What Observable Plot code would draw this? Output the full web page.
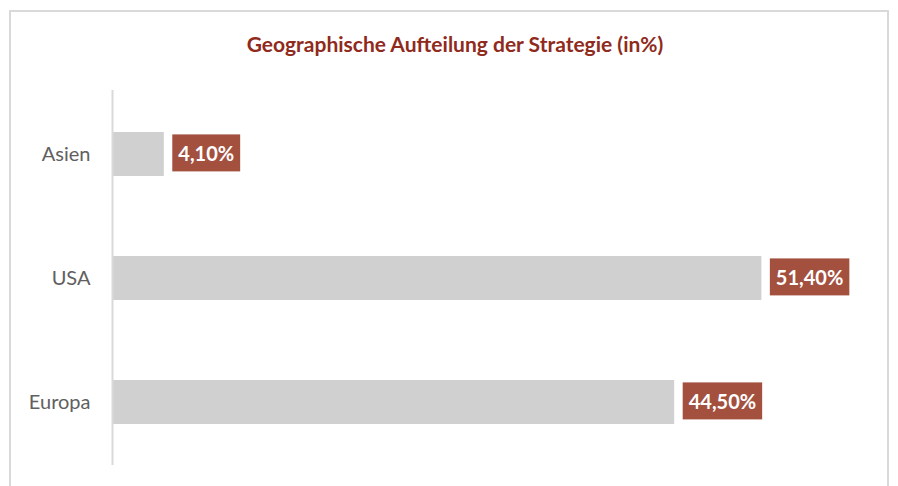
<!DOCTYPE html>
<html>
<head>
<meta charset="utf-8">
<script src="https://cdn.jsdelivr.net/npm/d3@7"></script>
<script src="https://cdn.jsdelivr.net/npm/@observablehq/plot@0.6"></script>
<style>
  html, body { margin: 0; padding: 0; background: #fff; }
  #wrap { position: relative; width: 898px; height: 486px; overflow: hidden; }
  #frame { position: absolute; left: 9px; top: 10px; width: 880px; height: 500px; border: 2px solid #d9d9d9; box-sizing: border-box; }
  #title { position: absolute; left: 0; top: 31px; width: 910px; text-align: center; font-family: Lato, "Liberation Sans Narrow", sans-serif; font-weight: bold; font-size: 21px; color: #8f2a1c; }
  #chart { position: absolute; left: 0; top: 0; }
</style>
</head>
<body>
<div id="wrap">
  <div id="frame"></div>
  <div id="title">Geographische Aufteilung der Strategie (in%)</div>
  <div id="chart"></div>
</div>
<script>
const categories = ["Asien", "USA", "Europa"];
const values = [4.1, 51.4, 44.5];
const valueLabels = ["4,10%", "51,40%", "44,50%"];

const data = categories.map((c, i) => ({category: c, value: values[i], label: valueLabels[i]}));

const plot = Plot.plot({
  width: 898,
  height: 486,
  marginLeft: 112,
  marginRight: 28,
  marginTop: 90,
  marginBottom: 21,
  style: {background: "transparent", fontFamily: "Lato, sans-serif"},
  x: {domain: [0, 60], axis: null},
  y: {domain: categories, paddingInner: 0.647, paddingOuter: 0.33, label: null, tickSize: 0, tickPadding: 22},
  marks: [
    Plot.barX(data, {x: "value", y: "category", fill: "#d0d0d0"}),
    Plot.ruleX([0], {stroke: "#d9d9d9", strokeWidth: 2}),
    Plot.text(data, {x: "value", y: "category", text: "label", textAnchor: "start", dx: 14, fill: "white", fontWeight: "bold", fontSize: 20, className: "vlabel"})
  ]
});
document.getElementById("chart").appendChild(plot);

// Style y-axis tick labels
d3.select(plot).selectAll("g[aria-label='y-axis tick label'] text")
  .attr("font-size", 20).attr("fill", "#606060");

// Background boxes behind value labels, sized from the rendered text
d3.select(plot).selectAll(".vlabel text").each(function() {
  const t = this;
  const b = t.getBBox();
  const padX = 6, h = 37;
  const cy = b.y + b.height / 2;
  const r = document.createElementNS("http://www.w3.org/2000/svg", "rect");
  r.setAttribute("x", b.x - padX);
  r.setAttribute("y", cy - h / 2);
  r.setAttribute("width", b.width + 2 * padX);
  r.setAttribute("height", h);
  r.setAttribute("fill", "#a3503f");
  const tr = t.getAttribute("transform");
  if (tr) r.setAttribute("transform", tr);
  t.parentNode.insertBefore(r, t);
});
</script>
</body>
</html>
